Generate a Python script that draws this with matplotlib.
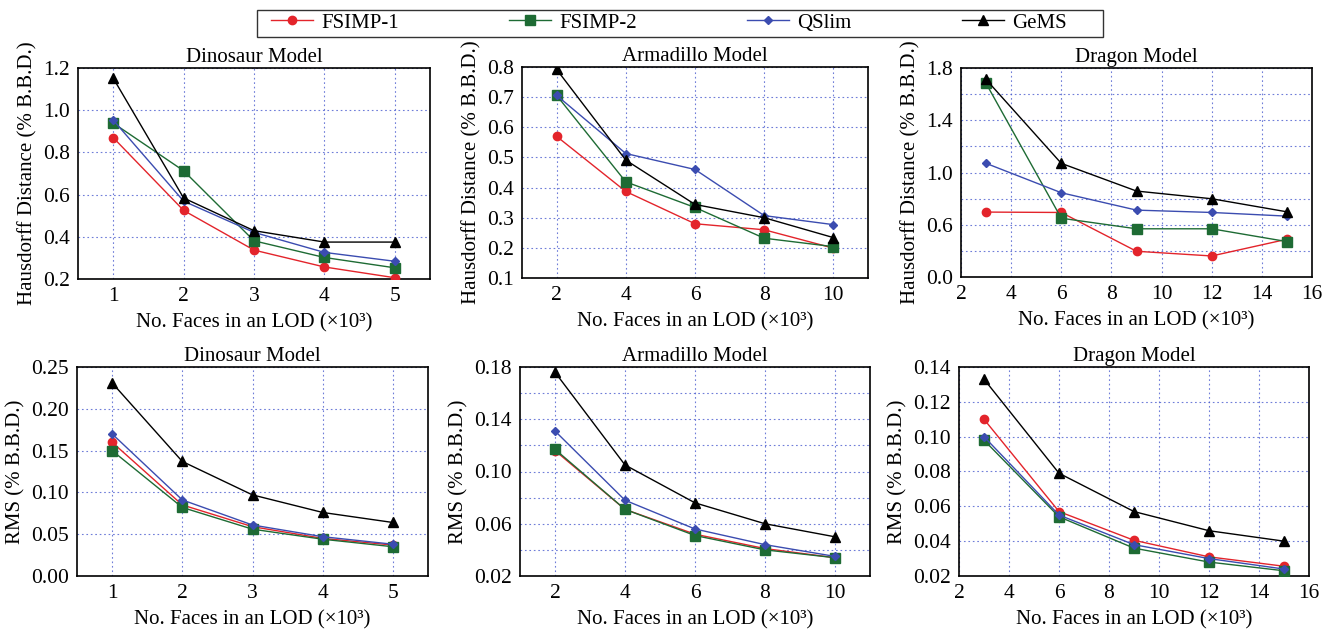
import matplotlib

matplotlib.use("Agg")

import matplotlib.pyplot as plt
from matplotlib.lines import Line2D
from matplotlib.patches import Rectangle

plt.rcParams["font.family"] = ["Liberation Serif", "DejaVu Serif"]
plt.rcParams["font.size"] = 15

W, H = 1335, 630

methods = ["FSIMP-1", "FSIMP-2", "QSlim", "GeMS"]
colors = ["#e3242b", "#1e6b34", "#3b4cb0", "#000000"]
markers = ["o", "s", "D", "^"]
msizes = [6, 7, 4.5, 7]

faces_dino = [1, 2, 3, 4, 5]
faces_arma = [2, 4, 6, 8, 10]
faces_drag = [3, 6, 9, 12, 15]

# Hausdorff distance (% B.B.D.)
hd_dino = {
    "FSIMP-1": [0.870, 0.525, 0.337, 0.257, 0.206],
    "FSIMP-2": [0.939, 0.713, 0.381, 0.302, 0.253],
    "QSlim": [0.953, 0.569, 0.421, 0.326, 0.284],
    "GeMS": [1.152, 0.584, 0.429, 0.375, 0.375],
}
hd_arma = {
    "FSIMP-1": [0.570, 0.387, 0.280, 0.260, 0.199],
    "FSIMP-2": [0.706, 0.419, 0.334, 0.232, 0.204],
    "QSlim": [0.706, 0.513, 0.460, 0.307, 0.277],
    "GeMS": [0.792, 0.491, 0.344, 0.300, 0.234],
}
hd_drag = {
    "FSIMP-1": [0.697, 0.694, 0.397, 0.361, 0.489],
    "FSIMP-2": [1.682, 0.650, 0.569, 0.569, 0.471],
    "QSlim": [1.070, 0.845, 0.712, 0.694, 0.666],
    "GeMS": [1.712, 1.070, 0.858, 0.799, 0.699],
}

# RMS (% B.B.D.)
rms_dino = {
    "FSIMP-1": [0.160, 0.085, 0.059, 0.045, 0.037],
    "FSIMP-2": [0.150, 0.082, 0.056, 0.044, 0.035],
    "QSlim": [0.170, 0.091, 0.061, 0.047, 0.038],
    "GeMS": [0.231, 0.137, 0.097, 0.076, 0.064],
}
rms_arma = {
    "FSIMP-1": [0.116, 0.071, 0.052, 0.041, 0.034],
    "FSIMP-2": [0.117, 0.071, 0.051, 0.040, 0.034],
    "QSlim": [0.131, 0.078, 0.056, 0.044, 0.035],
    "GeMS": [0.176, 0.105, 0.076, 0.060, 0.050],
}
rms_drag = {
    "FSIMP-1": [0.110, 0.057, 0.0405, 0.031, 0.0256],
    "FSIMP-2": [0.098, 0.054, 0.036, 0.028, 0.023],
    "QSlim": [0.100, 0.055, 0.038, 0.030, 0.024],
    "GeMS": [0.133, 0.079, 0.057, 0.046, 0.040],
}

# tick labels as printed in the figure (dragon HD axis bottom reads 0.0)
drag_hd_ticks = [0.2, 0.6, 1.0, 1.4, 1.8]
drag_hd_labels = ["0.0", "0.6", "1.0", "1.4", "1.8"]

xlabel = "No. Faces in an LOD (\u00d710\u00b3)"

# (left, top, right, bottom) in pixels
panels = [
    dict(box=(78, 68, 430, 279), x=faces_dino, data=hd_dino, title="Dinosaur Model",
         ylabel="Hausdorff Distance (% B.B.D.)", xlim=(0.5, 5.5), ylim=(0.2, 1.2),
         xticks=[1, 2, 3, 4, 5], yticks=[0.2, 0.4, 0.6, 0.8, 1.0, 1.2], yfmt="{:.1f}"),
    dict(box=(522, 67, 868, 278), x=faces_arma, data=hd_arma, title="Armadillo Model",
         ylabel="Hausdorff Distance (% B.B.D.)", xlim=(1, 11), ylim=(0.1, 0.8),
         xticks=[2, 4, 6, 8, 10], yticks=[0.1, 0.2, 0.3, 0.4, 0.5, 0.6, 0.7, 0.8], yfmt="{:.1f}"),
    dict(box=(961, 68, 1312, 277), x=faces_drag, data=hd_drag, title="Dragon Model",
         ylabel="Hausdorff Distance (% B.B.D.)", xlim=(2, 16), ylim=(0.2, 1.8),
         xticks=[2, 4, 6, 8, 10, 12, 14, 16], yticks=drag_hd_ticks, ylabels=drag_hd_labels,
         ygrid=[0.4, 0.8, 1.2, 1.6]),
    dict(box=(77, 367, 428, 576), x=faces_dino, data=rms_dino, title="Dinosaur Model",
         ylabel="RMS (% B.B.D.)", xlim=(0.5, 5.5), ylim=(0.0, 0.25),
         xticks=[1, 2, 3, 4, 5], yticks=[0.0, 0.05, 0.10, 0.15, 0.20, 0.25], yfmt="{:.2f}"),
    dict(box=(520, 367, 870, 576), x=faces_arma, data=rms_arma, title="Armadillo Model",
         ylabel="RMS (% B.B.D.)", xlim=(1, 11), ylim=(0.02, 0.18),
         xticks=[2, 4, 6, 8, 10], yticks=[0.02, 0.06, 0.10, 0.14, 0.18], yfmt="{:.2f}",
         ygrid=[0.04, 0.08, 0.12, 0.16]),
    dict(box=(959, 367, 1309, 576), x=faces_drag, data=rms_drag, title="Dragon Model",
         ylabel="RMS (% B.B.D.)", xlim=(2, 16), ylim=(0.02, 0.14),
         xticks=[2, 4, 6, 8, 10, 12, 14, 16], yticks=[0.02, 0.04, 0.06, 0.08, 0.10, 0.12, 0.14],
         yfmt="{:.2f}"),
]

grid_kw = dict(color="#4a5ccf", linestyle=(0, (1.5, 2.5)), linewidth=0.8, alpha=0.8)

fig = plt.figure(figsize=(W / 100, H / 100), dpi=100)

for p in panels:
    l, t, r, b = p["box"]
    ax = fig.add_axes([l / W, 1 - b / H, (r - l) / W, (b - t) / H])
    for m, c, mk, ms in zip(methods, colors, markers, msizes):
        ax.plot(p["x"], p["data"][m], color=c, marker=mk, markersize=ms,
                linewidth=1.0, zorder=3)
    ax.set_xlim(*p["xlim"])
    ax.set_ylim(*p["ylim"])
    ax.set_xticks(p["xticks"])
    ax.set_yticks(p["yticks"])
    if "ylabels" in p:
        ax.set_yticklabels(p["ylabels"])
    else:
        ax.set_yticklabels([p["yfmt"].format(v) for v in p["yticks"]])
    ax.tick_params(length=0, pad=6, labelsize=15.5)
    ax.grid(True, **grid_kw)
    for g in p.get("ygrid", []):
        ax.axhline(g, **grid_kw)
    ax.set_axisbelow(True)
    for s in ax.spines.values():
        s.set_linewidth(1.2)
    ax.set_title(p["title"], fontsize=15, pad=4)
    ax.set_xlabel(xlabel, fontsize=15, labelpad=5)
    ax.set_ylabel(p["ylabel"], fontsize=15, labelpad=4)

# legend: entries laid out in a row, frame drawn as its own box
handles = [Line2D([], [], color=c, marker=mk, markersize=ms, linewidth=1.0)
           for c, mk, ms in zip(colors, markers, msizes)]
leg = fig.legend(handles, methods, loc="upper left", ncol=4,
                 bbox_to_anchor=(268 / W, 1 - 10 / H),
                 frameon=False, fontsize=15, handlelength=2.0,
                 handletextpad=0.4, columnspacing=5.3, borderpad=0.15, borderaxespad=0)
fig.patches.append(Rectangle((257 / W, 1 - 37 / H), (1103 - 257) / W, 27 / H,
                             transform=fig.transFigure, fill=False,
                             edgecolor="#333333", linewidth=1.0))

fig.savefig("out.png", dpi=100)
